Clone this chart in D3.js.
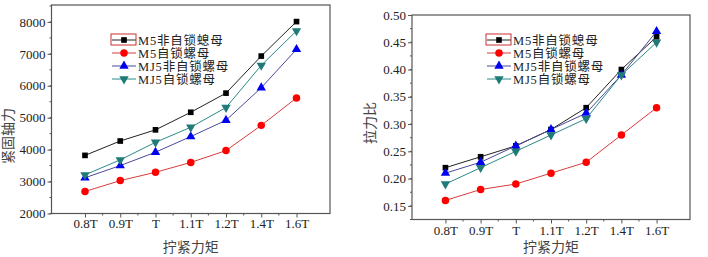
<!DOCTYPE html>
<html>
<head>
<meta charset="utf-8">
<script src="https://cdn.jsdelivr.net/npm/d3@7"></script>
<style>
  body { margin: 0; background: #fff; }
  svg { display: block; }
</style>
</head>
<body>
<svg id="chart" width="708" height="257"></svg>
<script>
const categories = ["0.8T", "0.9T", "T", "1.1T", "1.2T", "1.4T", "1.6T"];
const seriesNames = ["M5非自锁螅母", "M5自锁螺母", "MJ5非自锁螺母", "MJ5自锁螺母"];

// 紧固轴力
const forceM5Free = [3820, 4270, 4620, 5170, 5770, 6930, 8010];
const forceM5Lock = [2690, 3030, 3290, 3600, 3970, 4760, 5620];
const forceMJ5Free = [3120, 3500, 3920, 4410, 4920, 5940, 7140];
const forceMJ5Lock = [3210, 3680, 4230, 4700, 5320, 6640, 7720];

// 拉力比
const ratioM5Free = [0.22, 0.24, 0.26, 0.29, 0.33, 0.40, 0.46];
const ratioM5Lock = [0.16, 0.18, 0.19, 0.21, 0.23, 0.28, 0.33];
const ratioMJ5Free = [0.21, 0.23, 0.26, 0.29, 0.32, 0.39, 0.47];
const ratioMJ5Lock = [0.19, 0.22, 0.25, 0.28, 0.31, 0.39, 0.45];

const forceTicks = [2000, 3000, 4000, 5000, 6000, 7000, 8000];
const ratioTicks = [0.15, 0.20, 0.25, 0.30, 0.35, 0.40, 0.45, 0.50];

const styles = [
    { line: "#222", fill: "#000", symbol: d3.symbolSquare, size: 32, rot: 0 },
    { line: "#d83c3c", fill: "#f00", symbol: d3.symbolCircle, size: 44, rot: 0 },
    { line: "#4a4a9a", fill: "#0000f0", symbol: d3.symbolTriangle, size: 38, rot: 0 },
    { line: "#2a8a86", fill: "#1f7a78", symbol: d3.symbolTriangle, size: 38, rot: 180 }
];

const serif = "'Liberation Serif', 'Times New Roman', serif";
const cjk = "'Liberation Serif', 'Noto Sans CJK SC', serif";

const svg = d3.select("#chart");

function drawChart(cfg) {
    const g = svg.append("g");
    const x = d3.scalePoint().domain(categories).range([cfg.left, cfg.right]).padding(0.95);
    const y = d3.scaleLinear().domain(cfg.yDomain).range([cfg.bottom, cfg.top]);

    // frame
    g.append("rect")
        .attr("x", cfg.left).attr("y", cfg.top)
        .attr("width", cfg.right - cfg.left).attr("height", cfg.bottom - cfg.top)
        .attr("fill", "none").attr("stroke", "#555").attr("stroke-width", 1.2);

    // y axis
    const yAxis = g.append("g")
        .attr("transform", `translate(${cfg.left},0)`)
        .call(d3.axisLeft(y).tickValues(cfg.ticks).tickSize(4).tickPadding(2).tickFormat(cfg.fmt));
    yAxis.select(".domain").remove();
    yAxis.selectAll("line").attr("stroke", "#555");
    yAxis.selectAll("text").attr("font-family", serif).attr("font-size", 13).attr("fill", "#222");

    const minorY = d3.range(cfg.yDomain[0], cfg.yDomain[1], cfg.minorStep);
    g.append("g").selectAll("line").data(minorY).join("line")
        .attr("x1", cfg.left).attr("x2", cfg.left - 2)
        .attr("y1", d => y(d)).attr("y2", d => y(d))
        .attr("stroke", "#555");

    // x axis
    const xAxis = g.append("g")
        .attr("transform", `translate(0,${cfg.bottom})`)
        .call(d3.axisBottom(x).tickSize(4).tickPadding(cfg.xPad));
    xAxis.select(".domain").remove();
    xAxis.selectAll("line").attr("stroke", "#555");
    xAxis.selectAll("text").attr("font-family", serif).attr("font-size", 13).attr("fill", "#222");

    const mids = categories.slice(1).map((c, i) => (x(c) + x(categories[i])) / 2);
    g.append("g").selectAll("line").data(mids).join("line")
        .attr("x1", d => d).attr("x2", d => d)
        .attr("y1", cfg.bottom).attr("y2", cfg.bottom + 2)
        .attr("stroke", "#555");

    // titles
    g.append("text")
        .attr("x", (cfg.left + cfg.right) / 2).attr("y", 252)
        .attr("text-anchor", "middle")
        .attr("font-family", cjk).attr("font-size", 14).attr("fill", "#444")
        .text("拧紧力矩");
    g.append("text")
        .attr("transform", `translate(${cfg.yTitleX},${cfg.yTitleY}) rotate(-90)`)
        .attr("text-anchor", "middle")
        .attr("font-family", cjk).attr("font-size", 14).attr("fill", "#444")
        .text(cfg.yTitle);

    // series
    const line = d3.line().x((d, i) => x(categories[i])).y(d => y(d));
    cfg.series.forEach((vals, si) => {
        const st = styles[si];
        g.append("path")
            .attr("d", line(vals))
            .attr("fill", "none").attr("stroke", st.line).attr("stroke-width", 1);
        g.append("g").selectAll("path").data(vals).join("path")
            .attr("d", d3.symbol().type(st.symbol).size(st.size))
            .attr("transform", (d, i) => `translate(${x(categories[i])},${y(d)}) rotate(${st.rot})`)
            .attr("fill", st.fill);
    });

    // legend
    const lg = g.append("g").attr("transform", `translate(${cfg.legendX},${cfg.legendY})`);
    seriesNames.forEach((name, si) => {
        const st = styles[si];
        const row = lg.append("g").attr("transform", `translate(0,${si * 13})`);
        row.append("line").attr("x1", 0).attr("x2", 24).attr("y1", 0).attr("y2", 0)
            .attr("stroke", st.line).attr("stroke-width", 1);
        row.append("path")
            .attr("d", d3.symbol().type(st.symbol).size(st.size))
            .attr("transform", `translate(12,0) rotate(${st.rot})`)
            .attr("fill", st.fill);
        row.append("text")
            .attr("x", 26).attr("y", 4.5)
            .attr("font-family", cjk).attr("font-size", 12.5).attr("letter-spacing", 0.8)
            .attr("fill", "#222")
            .text(name);
    });
    lg.append("rect")
        .attr("x", -1).attr("y", -6).attr("width", 25).attr("height", 11)
        .attr("fill", "none").attr("stroke", "#c83030").attr("stroke-width", 1);
}

drawChart({
    left: 51.5, right: 330, top: 5, bottom: 213.5,
    yDomain: [2000, 8530], ticks: forceTicks, minorStep: 500, fmt: d3.format("d"),
    xPad: 1,
    yTitle: "紧固轴力", yTitleX: 13, yTitleY: 136,
    series: [forceM5Free, forceM5Lock, forceMJ5Free, forceMJ5Lock],
    legendX: 112, legendY: 40
});

drawChart({
    left: 412, right: 690, top: 15, bottom: 219.5,
    yDomain: [0.125, 0.50], ticks: ratioTicks, minorStep: 0.025, fmt: d3.format(".2f"),
    xPad: 2.5,
    yTitle: "拉力比", yTitleX: 375, yTitleY: 123,
    series: [ratioM5Free, ratioM5Lock, ratioMJ5Free, ratioMJ5Lock],
    legendX: 487, legendY: 40
});
</script>
</body>
</html>
